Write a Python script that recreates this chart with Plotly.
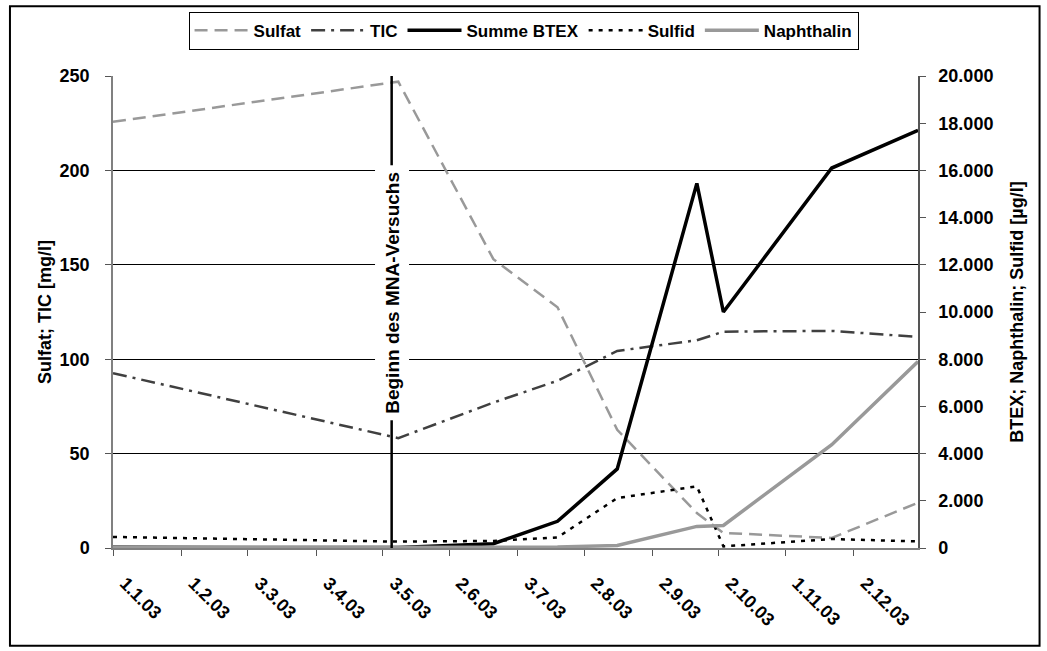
import plotly.graph_objects as go

# Sampling dates (2003)
dates = ["2003-01-01", "2003-05-10", "2003-06-22", "2003-07-21", "2003-08-17",
         "2003-09-22", "2003-10-04", "2003-11-22", "2003-12-31"]

# Left axis [mg/l]
sulfat = [225.7, 247.0, 153.0, 127.5, 62.6, 18.5, 8.0, 5.3, 24.0]
tic = [92.6, 58.2, 77.0, 88.6, 104.4, 110.0, 114.6, 115.0, 111.8]

# Right axis [µg/l]
btex = [30, 20, 180, 1130, 3350, 15450, 10000, 16100, 17700]
sulfid = [470, 270, 300, 450, 2117, 2610, 70, 380, 280]
naphthalin = [10, 10, 10, 40, 110, 915, 957, 4374, 7900]

tick_dates = ["2003-01-01", "2003-02-01", "2003-03-03", "2003-04-03", "2003-05-03",
              "2003-06-02", "2003-07-03", "2003-08-02", "2003-09-02", "2003-10-02",
              "2003-11-01", "2003-12-02"]
tick_labels = ["1.1.03", "1.2.03", "3.3.03", "3.4.03", "3.5.03", "2.6.03", "3.7.03",
               "2.8.03", "2.9.03", "2.10.03", "1.11.03", "2.12.03"]

start_date = "2003-05-07"
start_label = "Beginn des MNA-Versuchs"

FONT = "Liberation Sans, Arial, sans-serif"

fig = go.Figure()
fig.add_trace(go.Scatter(x=dates, y=sulfat, name="Sulfat", mode="lines",
                         line=dict(color="#999999", width=2.5, dash="13px,7px")))
fig.add_trace(go.Scatter(x=dates, y=tic, name="TIC", mode="lines",
                         line=dict(color="#404040", width=2.5, dash="14px,6px,3px,6px")))
fig.add_trace(go.Scatter(x=dates, y=btex, name="Summe BTEX", mode="lines", yaxis="y2",
                         line=dict(color="#000000", width=3.5)))
fig.add_trace(go.Scatter(x=dates, y=sulfid, name="Sulfid", mode="lines", yaxis="y2",
                         line=dict(color="#000000", width=2.5, dash="4px,6px")))
fig.add_trace(go.Scatter(x=dates, y=naphthalin, name="Naphthalin", mode="lines", yaxis="y2",
                         line=dict(color="#999999", width=3.5)))

tickfont = dict(family=FONT, size=18, color="black", weight="bold")

fig.update_layout(
    width=1047, height=651,
    margin=dict(l=113, r=129, t=76, b=103),
    paper_bgcolor="white", plot_bgcolor="white",
    separators=",.",
    font=dict(family=FONT, color="black"),
    xaxis=dict(type="date", range=["2003-01-01", "2003-12-31"],
               tickvals=tick_dates, ticktext=tick_labels, tickangle=45,
               tickfont=tickfont, ticks="outside", ticklen=6, tickcolor="#555555",
               ticklabelstandoff=10, ticklabelshift=12,
               showgrid=False, showline=True, linecolor="#808080", linewidth=1.5,
               zeroline=False),
    yaxis=dict(range=[0, 250], dtick=50, tickfont=tickfont, ticks="outside",
               ticklen=6, tickcolor="#555555", ticklabelstandoff=12,
               showgrid=True, gridcolor="#000000",
               gridwidth=1, showline=True, linecolor="#808080", linewidth=1.5,
               zeroline=False),
    yaxis2=dict(range=[0, 20000], dtick=2000, overlaying="y", side="right",
                tickformat=",d", tickfont=tickfont, ticks="outside", ticklen=6,
                tickcolor="#555555", ticklabelstandoff=9, showgrid=False, showline=True,
                linecolor="#555555", linewidth=1.5, zeroline=False),
    legend=dict(orientation="h", x=0.51, xanchor="center", y=1.136, yanchor="top",
                bordercolor="black", borderwidth=1, bgcolor="white",
                font=dict(family=FONT, size=17, color="black", weight="bold"),
                itemwidth=54, tracegroupgap=0),
    shapes=[
        dict(type="line", xref="x", yref="paper", x0=start_date, x1=start_date,
             y0=0, y1=1, line=dict(color="black", width=2.5), layer="above"),
        dict(type="rect", xref="paper", yref="paper", x0=-0.128, x1=1.151,
             y0=-0.207, y1=1.148, line=dict(color="black", width=2), layer="below"),
    ],
    annotations=[
        dict(x=start_date, xref="x", y=0.54, yref="paper", text=start_label,
             textangle=-90, showarrow=False, bgcolor="white", borderpad=6,
             font=dict(family=FONT, size=19, color="black", weight="bold")),
        dict(x=-0.0845, xref="paper", y=0.5, yref="paper", text="Sulfat; TIC [mg/l]",
             xanchor="center", yanchor="middle", textangle=-90, showarrow=False,
             font=dict(family=FONT, size=18, color="black", weight="bold")),
        dict(x=1.1226, xref="paper", y=0.5, yref="paper",
             text="BTEX; Naphthalin; Sulfid [µg/l]", xanchor="center", yanchor="middle",
             textangle=-90, showarrow=False,
             font=dict(family=FONT, size=18, color="black", weight="bold")),
    ],
)

fig.write_html("out.html")
